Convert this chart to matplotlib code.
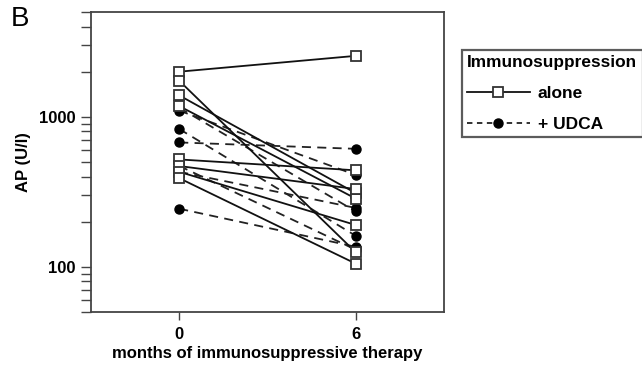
import numpy as np
import matplotlib.pyplot as plt
from matplotlib.ticker import LogLocator, NullFormatter, FixedLocator

plt.rcParams['font.family'] = ['Liberation Sans', 'DejaVu Sans']

# months of therapy
months = [0, 6]

# AP (U/l) per patient, immunosuppression alone (start, 6 months)
alone_start = [2000, 1740, 1390, 1180, 520, 470, 430, 390]
alone_end = [2550, 125, 310, 285, 440, 330, 190, 105]

# AP (U/l) per patient, immunosuppression + UDCA
udca_start = [1150, 1100, 830, 675, 471, 430, 244]
udca_end = [234, 410, 161, 612, 130, 247, 136]

y_ticks = [100, 1000]
y_ticklabels = ['100', '1000']

fig = plt.figure(figsize=(6.42, 3.68), dpi=100)
ax = fig.add_axes([0.1417, 0.1522, 0.5499, 0.8152])

for a, b in zip(udca_start, udca_end):
    ax.plot(months, [a, b], color='#222222', lw=1.3, ls=(0, (5, 3.5)),
            marker='o', ms=6.5, mfc='black', mec='black', zorder=2)
for a, b in zip(alone_start, alone_end):
    ax.plot(months, [a, b], color='#111111', lw=1.3, ls='-',
            marker='s', ms=6.5, mfc='white', mec='#333333', mew=1.3, zorder=3)

ax.set_yscale('log')
ax.set_ylim(50, 5000)
ax.set_xlim(-3, 9)
ax.set_xticks(months)
ax.set_xticklabels([str(m) for m in months], fontsize=12, fontweight='bold')
ax.yaxis.set_major_locator(FixedLocator(y_ticks))
ax.set_yticklabels(y_ticklabels, fontsize=12, fontweight='bold')
ax.yaxis.set_minor_locator(LogLocator(base=10, subs=np.arange(2, 10)))
ax.yaxis.set_minor_formatter(NullFormatter())
ax.tick_params(axis='y', which='both', direction='out', length=7, width=1, color='#444444', pad=4)
ax.tick_params(axis='x', direction='out', length=6, width=1, color='#444444', pad=5)
for s in ax.spines.values():
    s.set_color('#444444')
    s.set_linewidth(1.3)

ax.set_ylabel('AP (U/l)', fontsize=12, fontweight='bold', labelpad=6)
ax.set_xlabel('months of immunosuppressive therapy', fontsize=12, fontweight='bold', labelpad=3)

fig.text(0.017, 0.985, 'B', fontsize=20, va='top', ha='left')

# legend handles
h1, = ax.plot([], [], color='#111111', lw=1.3, marker='s', ms=6.5, mfc='white', mec='#333333', mew=1.3)
h2, = ax.plot([], [], color='#222222', lw=1.3, ls=(0, (3, 2.5)), marker='o', ms=6.5, mfc='black', mec='black')
leg = fig.legend([h1, h2], ['alone', '+ UDCA'], loc='upper left',
                 bbox_to_anchor=(462 / 642, 1 - 50 / 368), title='Immunosuppression',
                 title_fontproperties={'weight': 'bold', 'size': 12.4}, prop={'weight': 'bold', 'size': 12.5},
                 alignment='left', fancybox=False, edgecolor='#333333', handlelength=3.6,
                 borderpad=0.3, labelspacing=0.9, handletextpad=0.45, borderaxespad=0)
leg.get_frame().set_linewidth(1.6)

fig.savefig('out.png', dpi=100)
